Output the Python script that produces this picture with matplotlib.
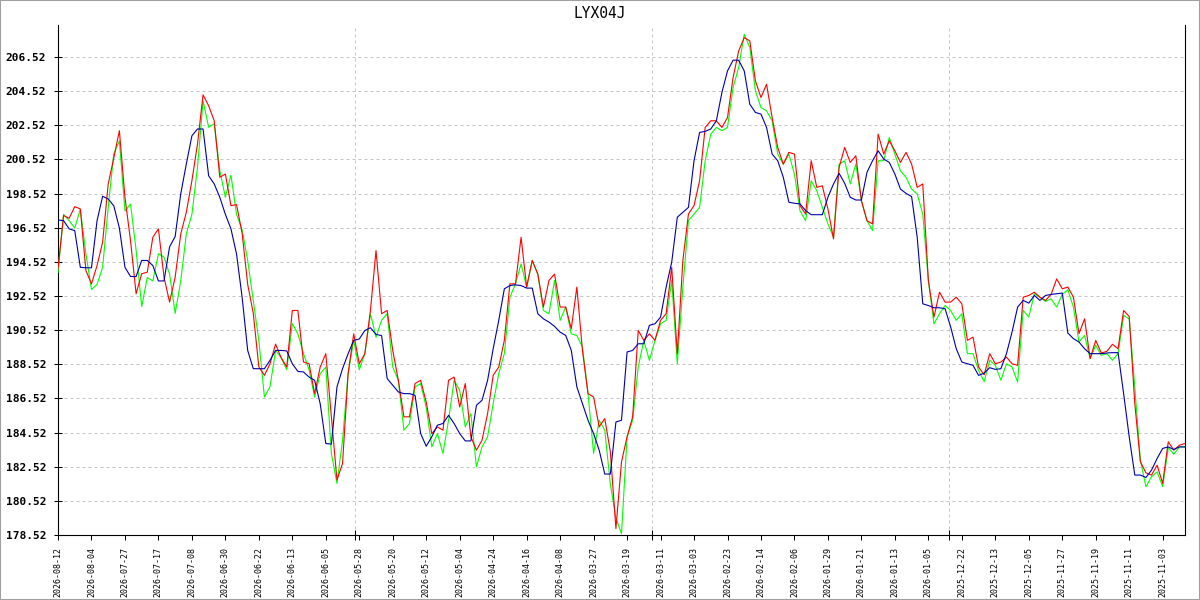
import matplotlib
matplotlib.use("Agg")
import matplotlib.pyplot as plt
from matplotlib.patches import Rectangle

# chart data (newest day on the left, as in the source chart)
title = "LYX04J"

date_labels = ["2026-08-12", "2026-08-04", "2026-07-27", "2026-07-17", "2026-07-08",
               "2026-06-30", "2026-06-22", "2026-06-13", "2026-06-05", "2026-05-28",
               "2026-05-20", "2026-05-12", "2026-05-04", "2026-04-24", "2026-04-16",
               "2026-04-08", "2026-03-27", "2026-03-19", "2026-03-11", "2026-03-03",
               "2026-02-23", "2026-02-14", "2026-02-06", "2026-01-29", "2026-01-21",
               "2026-01-13", "2026-01-05", "2025-12-22", "2025-12-13", "2025-12-05",
               "2025-11-27", "2025-11-19", "2025-11-11", "2025-11-03"]

y_ticks = [178.52, 180.52, 182.52, 184.52, 186.52, 188.52, 190.52, 192.52,
           194.52, 196.52, 198.52, 200.52, 202.52, 204.52, 206.52]

red_vals = [
    194.11, 197.23, 197.07, 197.75, 197.62, 194.01, 193.23, 194.30, 195.67, 199.08,
    200.60, 202.20, 198.30, 195.76, 192.65, 193.82, 193.91, 195.96, 196.45, 193.62,
    192.16, 193.62, 196.15, 197.42, 199.27, 201.41, 204.30, 203.66, 202.78, 199.47,
    199.66, 197.81, 197.87, 196.20, 193.20, 191.50, 188.36, 187.87, 188.55, 189.70,
    188.90, 188.36, 191.67, 191.67, 188.65, 188.55, 186.80, 188.36, 189.14, 185.44,
    181.74, 182.71, 187.97, 190.30, 188.55, 189.14, 191.67, 195.18, 191.48, 191.67,
    189.33, 187.58, 185.44, 185.44, 187.39, 187.58, 186.30, 184.46, 184.85, 184.66,
    187.58, 187.77, 186.02, 187.39, 184.27, 183.49, 184.07, 185.63, 187.87, 188.36,
    189.92, 193.23, 193.23, 195.96, 193.04, 194.60, 193.80, 191.87, 193.43, 193.80,
    191.87, 191.87, 190.60, 193.04, 189.33, 186.80, 186.60, 184.85, 185.34, 183.40,
    178.90, 182.80, 184.27, 185.44, 190.50, 189.92, 190.30, 189.92, 191.09, 191.48,
    194.20, 189.14, 194.60, 197.32, 197.81, 199.27, 202.39, 202.78, 202.78, 202.39,
    202.97, 205.31, 206.87, 207.65, 207.46, 205.12, 204.14, 204.92, 202.97, 201.22,
    200.24, 200.93, 200.83, 197.80, 197.32, 200.44, 198.88, 198.97, 197.61, 195.86,
    200.05, 201.22, 200.34, 200.73, 198.10, 196.93, 196.74, 202.00, 200.83, 201.61,
    201.02, 200.34, 200.93, 200.24, 198.88, 199.08, 193.43, 191.28, 192.74, 192.16,
    192.16, 192.45, 192.06, 189.92, 190.11, 188.36, 187.90, 189.14, 188.55, 188.65,
    188.94, 188.55, 188.46, 192.45, 192.55, 192.74, 192.45, 192.26, 192.61, 193.52,
    192.94, 193.04, 192.45, 190.31, 191.18, 188.85, 189.92, 189.18, 189.28, 189.69,
    189.43, 191.67, 191.32, 186.22, 182.81, 182.16, 182.03, 182.61, 181.54, 183.98,
    183.49, 183.78, 183.88]

green_vals = [
    193.90, 197.30, 196.93, 196.50, 197.60, 195.00, 192.90, 193.20, 194.20, 197.70,
    200.85, 201.60, 197.50, 197.90, 195.20, 191.90, 193.60, 193.40, 195.00, 194.80,
    193.80, 191.50, 193.40, 196.15, 197.30, 200.05, 203.95, 202.40, 202.60, 199.87,
    198.30, 199.60, 197.30, 196.40, 194.60, 192.26, 189.90, 186.60, 187.20, 189.33,
    188.90, 188.20, 190.90, 190.30, 189.14, 188.20, 186.60, 187.97, 188.36, 183.30,
    181.54, 184.07, 187.97, 189.92, 188.20, 189.14, 191.48, 190.10, 191.10, 191.48,
    188.36, 187.58, 184.66, 185.05, 187.19, 187.39, 186.00, 183.68, 184.46, 183.30,
    185.24, 187.58, 187.00, 184.85, 185.63, 182.51, 183.68, 184.27, 186.22, 187.97,
    189.14, 192.45, 193.23, 194.40, 193.04, 194.60, 193.80, 191.67, 191.48, 193.43,
    191.09, 191.87, 190.30, 190.20, 189.53, 186.80, 183.30, 185.24, 184.66, 181.50,
    179.50, 178.60, 184.27, 185.24, 188.36, 189.92, 188.75, 189.92, 190.89, 191.09,
    193.43, 188.55, 193.04, 196.93, 197.32, 197.71, 200.44, 202.00, 202.39, 202.20,
    202.39, 204.73, 205.90, 207.85, 207.07, 204.53, 203.56, 203.36, 202.78, 200.83,
    200.24, 200.83, 199.66, 197.50, 196.93, 199.27, 198.69, 197.71, 196.74, 195.96,
    200.24, 200.44, 199.08, 200.24, 198.10, 196.93, 196.35, 200.44, 200.44, 201.80,
    200.83, 199.85, 199.47, 198.78, 198.49, 197.32, 193.43, 190.89, 191.48, 191.96,
    191.67, 191.09, 191.48, 189.14, 189.14, 188.16, 187.50, 188.75, 188.46, 187.58,
    188.55, 188.36, 187.48, 191.67, 191.28, 192.65, 192.45, 192.20, 192.35, 191.87,
    192.61, 192.88, 191.87, 189.82, 190.21, 188.85, 189.63, 189.04, 189.14, 188.75,
    189.14, 191.38, 191.18, 187.19, 182.90, 181.35, 181.93, 182.22, 181.35, 183.64,
    183.25, 183.68, 183.68]

blue_vals = [
    196.97, 196.93, 196.45, 196.35, 194.20, 194.17, 194.17, 196.93, 198.36, 198.20,
    197.80, 196.50, 194.20, 193.66, 193.66, 194.60, 194.60, 194.30, 193.40, 193.40,
    195.40, 196.00, 198.50, 200.25, 201.90, 202.30, 202.30, 199.56, 199.08, 198.30,
    197.30, 196.45, 194.98, 192.45, 189.33, 188.26, 188.26, 188.26, 188.75, 189.33,
    189.33, 189.30, 188.55, 188.10, 188.07, 187.77, 187.58, 186.20, 183.88, 183.84,
    187.19, 188.26, 189.14, 189.92, 190.00, 190.50, 190.66, 190.27, 190.20, 187.68,
    187.29, 186.90, 186.80, 186.80, 186.70, 184.46, 183.72, 184.27, 184.95, 185.05,
    185.53, 185.05, 184.46, 184.03, 184.03, 186.12, 186.41, 187.58, 189.43, 191.09,
    192.94, 193.13, 193.17, 193.13, 192.98, 192.98, 191.48, 191.18, 190.99, 190.74,
    190.40, 190.21, 189.33, 187.19, 186.22, 185.24, 184.46, 183.49, 182.09, 182.09,
    185.14, 185.24, 189.24, 189.33, 189.72, 189.72, 190.80, 190.89, 191.28, 193.04,
    194.50, 197.13, 197.42, 197.71, 200.44, 202.10, 202.16, 202.30, 202.78, 204.44,
    205.70, 206.33, 206.33, 205.70, 203.75, 203.27, 203.17, 202.39, 200.83, 200.44,
    199.47, 198.01, 197.95, 197.91, 197.52, 197.28, 197.28, 197.28, 198.30, 199.08,
    199.70, 199.12, 198.30, 198.14, 198.14, 199.76, 200.44, 201.02, 200.54, 200.34,
    199.66, 198.78, 198.53, 198.34, 195.96, 192.06, 191.96, 191.83, 191.83, 191.77,
    190.70, 189.43, 188.65, 188.55, 188.46, 187.87, 188.00, 188.32, 188.22, 188.26,
    189.14, 190.41, 191.87, 192.26, 192.10, 192.55, 192.26, 192.55, 192.61, 192.65,
    192.69, 190.35, 190.02, 189.82, 189.43, 189.14, 189.14, 189.14, 189.18, 189.20,
    189.20, 186.80, 184.27, 182.03, 182.03, 181.89, 182.32, 183.00, 183.59, 183.68,
    183.53, 183.68, 183.68]

x = list(range(len(red_vals)))
label_every = 6
grid_x = [53.25, 106.5, 159.75]

mono = "DejaVu Sans Mono"
grid_color = "#c4c4c4"
line_w = 0.8

fig = plt.figure(figsize=(12, 6), dpi=100)
ax = fig.add_axes([58 / 1200, 65 / 600, 1127 / 1200, 510 / 600])

ax.plot(x, green_vals, color="#00ff00", lw=line_w, zorder=3)
ax.plot(x, red_vals, color="#ff0000", lw=line_w, zorder=4)
ax.plot(x, blue_vals, color="#0000a8", lw=line_w, zorder=5)

ax.set_xlim(0, len(x) - 1)
ax.set_ylim(178.52, 208.39)

ax.set_yticks(y_ticks)
ax.set_yticklabels([f"{v:.2f}" for v in y_ticks], family=mono, fontweight="bold", fontsize=8)
ax.set_xticks(list(range(0, label_every * len(date_labels), label_every)))
ax.set_xticklabels(date_labels, rotation=90, family=mono, fontsize=6)
ax.set_xticks(grid_x, minor=True)

ax.tick_params(axis="y", direction="inout", length=5.8, width=0.75, pad=5.7)
ax.tick_params(axis="x", which="major", direction="out", length=3.6, width=0.75, pad=5)
ax.tick_params(axis="x", which="minor", direction="inout", length=7, width=0.75)

ax.grid(axis="y", which="major", color=grid_color, linestyle=(0, (3, 3)), lw=0.72)
ax.grid(axis="x", which="minor", color=grid_color, linestyle=(0, (3, 3)), lw=0.72)

ax.spines["top"].set_visible(False)
for s in ("left", "bottom", "right"):
    ax.spines[s].set_linewidth(0.8)

fig.text(0.5, 1 - 13 / 600, title, ha="center", va="center", family=mono, fontsize=10.5)

fig.add_artist(Rectangle((0, 0), 1, 1, transform=fig.transFigure, fill=False,
                         edgecolor="#a0a0a0", lw=1.5))

fig.savefig("out.png", dpi=100)
